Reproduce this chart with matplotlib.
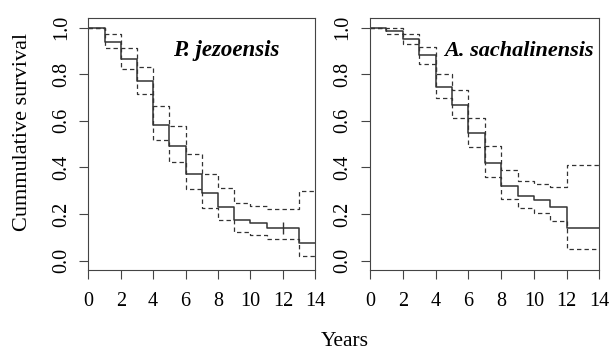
import matplotlib
matplotlib.use('Agg')
import matplotlib.pyplot as plt

plt.rcParams['font.family'] = ['Liberation Serif', 'DejaVu Serif']

# Kaplan-Meier estimates (step changes at each year)
times_p = [0, 1, 2, 3, 4, 5, 6, 7, 8, 9, 10, 11, 13, 14]
surv_p = [1.0, 0.938, 0.864, 0.769, 0.583, 0.494, 0.372, 0.289, 0.232, 0.175, 0.160, 0.140, 0.0745, 0.0745]
upper_p = [1.0, 0.971, 0.913, 0.831, 0.662, 0.576, 0.456, 0.372, 0.311, 0.249, 0.236, 0.222, 0.298, 0.298]
lower_p = [1.0, 0.913, 0.824, 0.716, 0.516, 0.425, 0.308, 0.226, 0.176, 0.122, 0.112, 0.093, 0.019, 0.019]
censor_p_t = [12]
censor_p_s = [0.140]

times_a = [0, 1, 2, 3, 4, 5, 6, 7, 8, 9, 10, 11, 12, 14]
surv_a = [1.0, 0.986, 0.953, 0.881, 0.745, 0.669, 0.547, 0.418, 0.319, 0.278, 0.261, 0.232, 0.140, 0.140]
upper_a = [1.0, 1.0, 0.974, 0.917, 0.800, 0.733, 0.612, 0.490, 0.391, 0.344, 0.330, 0.315, 0.411, 0.411]
lower_a = [1.0, 0.971, 0.928, 0.842, 0.698, 0.613, 0.487, 0.358, 0.265, 0.225, 0.205, 0.169, 0.050, 0.050]

species = ['P. jezoensis', 'A. sachalinensis']
xticks = [0, 2, 4, 6, 8, 10, 12, 14]
yticks = [0.0, 0.2, 0.4, 0.6, 0.8, 1.0]

fig = plt.figure(figsize=(6.11, 3.5), dpi=100)
ax1 = fig.add_axes([0.1445, 0.2286, 0.3715, 0.719])
ax2 = fig.add_axes([0.6056, 0.2286, 0.3755, 0.719])

panels = [
    (ax1, times_p, surv_p, upper_p, lower_p, species[0], 5.2, 16.5),
    (ax2, times_a, surv_a, upper_a, lower_a, species[1], 4.55, 16),
]

for ax, t, s, up, lo, name, tx, fs in panels:
    ax.step(t, s, where='post', color='#333333', lw=1.1)
    ax.step(t, up, where='post', color='#333333', lw=0.9, linestyle=(0, (3.5, 2.5)))
    ax.step(t, lo, where='post', color='#333333', lw=0.9, linestyle=(0, (3.5, 2.5)))
    ax.text(tx, 0.90, name, fontsize=fs, fontweight='bold', fontstyle='italic', va='center', ha='left')

    ax.set_xlim(0, 14)
    ax.set_ylim(-0.04, 1.04)
    ax.set_xticks(xticks)
    ax.set_xticklabels([str(v) for v in xticks])
    ax.set_yticks(yticks)
    ax.set_yticklabels([f'{v:.1f}' for v in yticks], rotation=90, va='center')
    ax.tick_params(direction='out', length=6.5, width=0.8, labelsize=14.5, color='#444444', pad=6)
    ax.tick_params(axis='x', pad=9)
    for sp in ax.spines.values():
        sp.set_color('#444444')
        sp.set_linewidth(0.8)

# censored observation mark
ax1.plot(censor_p_t, censor_p_s, marker='|', markersize=8, color='#333333', linestyle='none')

ax1.set_ylabel('Cummulative survival', fontsize=16, labelpad=4)
ax1.yaxis.set_label_coords(-0.25, 0.55)
fig.text(0.565, 0.025, 'Years', fontsize=15.5, ha='center', va='center')

fig.savefig('out.png', dpi=100)
